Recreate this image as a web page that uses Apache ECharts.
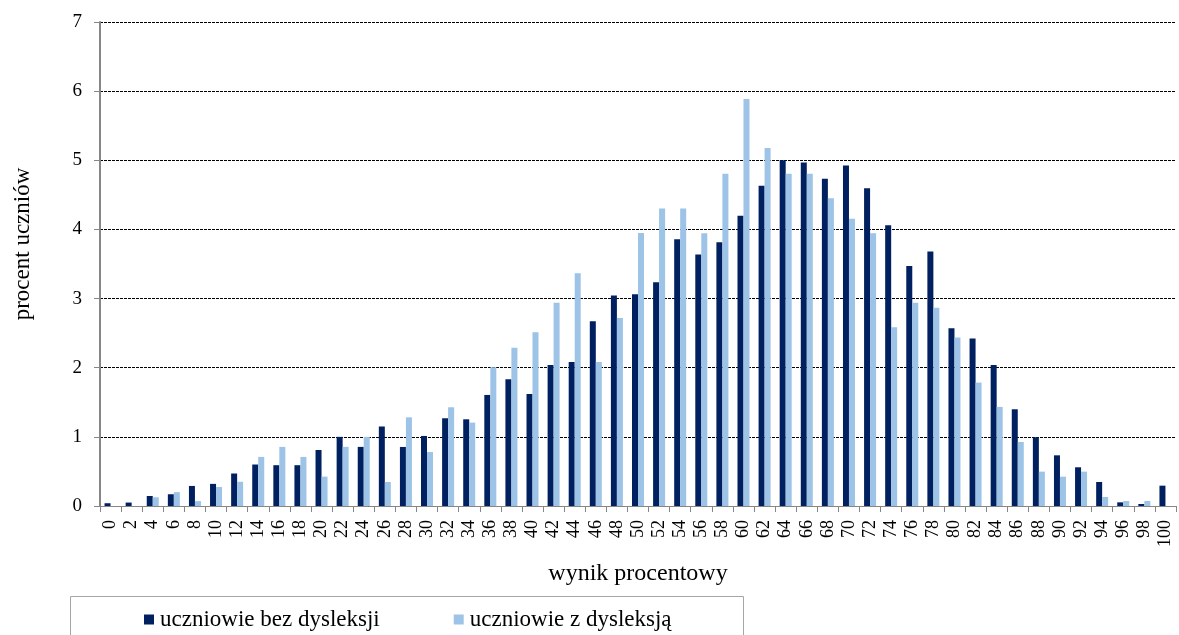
<!DOCTYPE html>
<html><head><meta charset="utf-8">
<script src="https://cdn.jsdelivr.net/npm/echarts@6/dist/echarts.min.js"></script>
<style>html,body{margin:0;padding:0;background:#fff}#c{width:1179px;height:635px}</style>
</head><body><div id="c"></div>
<script>
const categories = ["0","2","4","6","8","10","12","14","16","18","20","22","24","26","28","30","32","34","36","38","40","42","44","46","48","50","52","54","56","58","60","62","64","66","68","70","72","74","76","78","80","82","84","86","88","90","92","94","96","98","100"];
const bezDysleksji = [0.04,0.05,0.145,0.17,0.29,0.32,0.47,0.6,0.59,0.59,0.81,1.0,0.855,1.15,0.854,1.013,1.269,1.254,1.606,1.833,1.62,2.04,2.084,2.672,3.044,3.063,3.237,3.859,3.637,3.816,4.197,4.631,5.0,4.969,4.732,4.925,4.597,4.062,3.47,3.681,2.571,2.422,2.04,1.399,0.994,0.733,0.56,0.347,0.053,0.029,0.294];
const zDysleksja = [0,0,0.126,0.2,0.07,0.275,0.35,0.71,0.855,0.71,0.425,0.855,1.0,0.347,1.283,0.78,1.428,1.206,2.007,2.287,2.513,2.938,3.367,2.084,2.72,3.95,4.303,4.303,3.946,4.805,5.885,5.176,4.805,4.805,4.452,4.153,3.946,2.586,2.94,2.867,2.436,1.785,1.433,0.926,0.497,0.424,0.497,0.13,0.072,0.072,0];
const yTicks = [0,1,2,3,4,5,6,7];
const seriesNames = ["uczniowie bez dysleksji","uczniowie z dysleksją"];

const font = "'Liberation Serif','Times New Roman',serif";
const chart = echarts.init(document.getElementById('c'));
chart.setOption({
  animation:false,
  textStyle:{fontFamily:font},
  grid:{left:100,right:3,top:22,bottom:129,containLabel:false},
  graphic:[{type:'rect',shape:{x:70.5,y:596.5,width:673,height:60},style:{fill:'none',stroke:'#a6a6a6',lineWidth:1}}],
  legend:{
    left:139,top:603,itemGap:74,itemWidth:10,itemHeight:10,icon:'rect',
    textStyle:{fontFamily:font,fontSize:23,color:'#000',padding:[0,0,0,1]},
    data:seriesNames
  },
  xAxis:{
    type:'category',data:categories,
    name:'wynik procentowy',nameLocation:'middle',nameGap:56,
    nameTextStyle:{fontFamily:font,fontSize:24,color:'#000'},
    axisLine:{lineStyle:{color:'#868686',width:1}},
    axisTick:{show:true,length:6,lineStyle:{color:'#868686'}},
    axisLabel:{rotate:90,interval:0,fontFamily:font,fontSize:18,color:'#000',margin:14}
  },
  yAxis:{
    type:'value',min:0,max:7,interval:1,
    name:'procent uczniów',nameLocation:'middle',nameGap:66,nameRotate:90,
    nameTextStyle:{fontFamily:font,fontSize:23,color:'#000',padding:[0,0,0,40]},
    axisLine:{show:true,lineStyle:{color:'#868686',width:2}},
    axisTick:{show:true,length:6,lineStyle:{color:'#868686'}},
    axisLabel:{fontFamily:font,fontSize:19,color:'#000',margin:18,formatter:v=>yTicks.includes(v)?String(v):''},
    splitLine:{show:true,lineStyle:{color:'#000',type:[3,1],width:1}}
  },
  series:[
    {name:seriesNames[0],type:'bar',data:bezDysleksji,barWidth:6,barGap:'0%',itemStyle:{color:'#002060'}},
    {name:seriesNames[1],type:'bar',data:zDysleksja,barWidth:6,itemStyle:{color:'#9DC3E6'}}
  ]
});
</script></body></html>
